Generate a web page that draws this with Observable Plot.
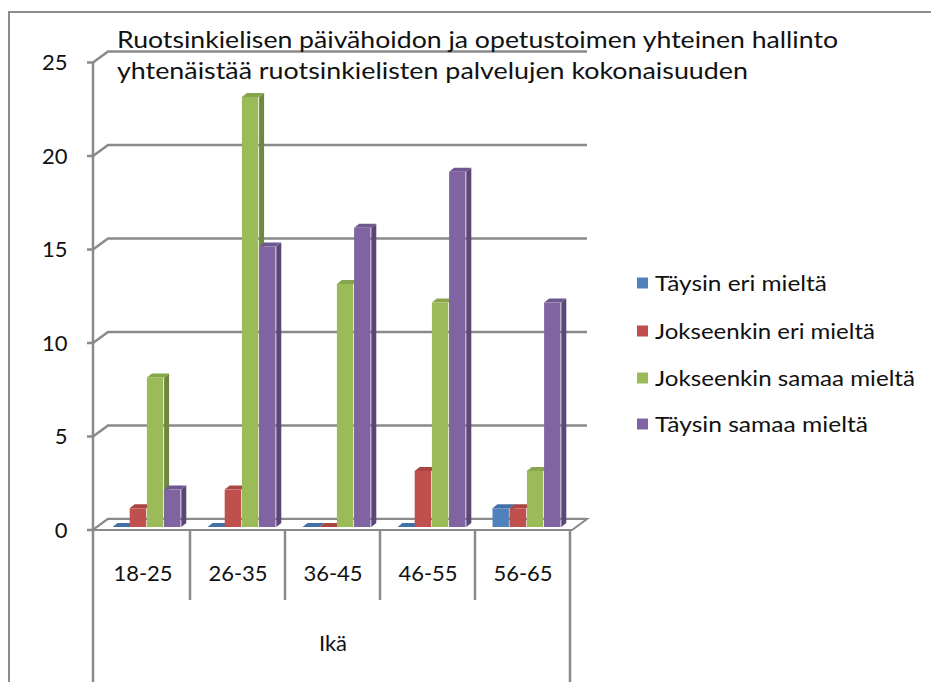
<!DOCTYPE html>
<html><head><meta charset="utf-8">
<script src="https://cdn.jsdelivr.net/npm/d3@7"></script>
<script src="https://cdn.jsdelivr.net/npm/@observablehq/plot@0.6"></script>
<style>
html,body{margin:0;padding:0;background:#fff;}
#wrap{position:relative;width:931px;height:682px;overflow:hidden;background:#fff;}
#border{position:absolute;left:8px;top:11px;width:1000px;height:1000px;border-left:2px solid #8c8c8c;border-top:2px solid #8c8c8c;}
#chart{position:absolute;left:0;top:0;}
</style></head><body>
<div id="wrap"><div id="border"></div><div id="chart"></div></div>
<script>
// ---- data ----
const titleLines = ["Ruotsinkielisen päivähoidon ja opetustoimen yhteinen hallinto", "yhtenäistää ruotsinkielisten palvelujen kokonaisuuden"];
const categories = ["18-25", "26-35", "36-45", "46-55", "56-65"];
const axisTitle = "Ikä";
const seriesNames = ["Täysin eri mieltä", "Jokseenkin eri mieltä", "Jokseenkin samaa mieltä", "Täysin samaa mieltä"];
const taysinEri = [0, 0, 0, 0, 1];
const jokseenkinEri = [1, 2, 0, 3, 1];
const jokseenkinSamaa = [8, 23, 13, 12, 3];
const taysinSamaa = [2, 15, 16, 19, 12];
const yTicks = [0, 5, 10, 15, 20, 25];
const frontColors = ["#4F81BD", "#C0504D", "#9BBB59", "#8064A2"];
const sideColors = ["#385E8C", "#8C3A38", "#6F883F", "#5B4776"];
const topColors = ["#4470A8", "#A94543", "#87A64C", "#6F588F"];

const seriesValues = [taysinEri, jokseenkinEri, jokseenkinSamaa, taysinSamaa];
const rows = [];
seriesValues.forEach((vals, s) => vals.forEach((v, c) => rows.push({cat: categories[c], s, value: v})));

// ---- layout (pixels) ----
const X0 = 93, X1 = 572, Y0 = 527, Y25 = 59.5;
const BW = (X1 - X0) / categories.length;
const BAR_START = 17.5, BAR_W = 17.2;
const DX = 5, DY = -4;        // bar depth
const FRONT = 3, BACK = -8, WALLX = 15; // axis/floor depth
const FONT = "Lato, sans-serif";

function bandInfo(x) {
  return typeof x.bandwidth === "function" ? x.bandwidth() : (x.bandwidth ?? BW);
}

// back wall gridlines, ticks, floor, table lines
function wallMark(index, scales) {
  const {x, y} = scales;
  const g = d3.create("svg:g").attr("fill", "none").attr("stroke", "#8a8a8a");
  for (const v of yTicks) {
    const yv = y(v);
    g.append("polyline")
      .attr("stroke-width", 2.5)
      .attr("points", [[X0 - 6, yv + FRONT], [X0, yv + FRONT], [X0 + WALLX, yv + BACK], [X1 + WALLX, yv + BACK]].map(p => p.join(",")).join(" "));
  }
  const y0 = y(0);
  g.append("polygon")
    .attr("fill", "#fff").attr("stroke-width", 2)
    .attr("points", [[X0, y0 + FRONT], [X1, y0 + FRONT], [X1 + WALLX, y0 + BACK], [X0 + WALLX, y0 + BACK]].map(p => p.join(",")).join(" "));
  g.append("line").attr("stroke-width", 2.5)
    .attr("x1", X0).attr("x2", X0).attr("y1", y(25) + FRONT).attr("y2", 682);
  const bw = bandInfo(x);
  categories.forEach((c, i) => {
    const xs = x(c);
    if (i > 0) g.append("line").attr("stroke-width", 2.5).attr("x1", xs).attr("x2", xs).attr("y1", y0 + FRONT).attr("y2", 600);
  });
  const xr = x(categories[categories.length - 1]) + bw;
  g.append("line").attr("stroke-width", 2.5).attr("x1", xr).attr("x2", xr).attr("y1", y0 + FRONT).attr("y2", 682);
  return g.node();
}

// 3D sides and tops of bars
function depthMark(index, scales) {
  const {x, y} = scales;
  const g = d3.create("svg:g");
  const poly = (pts, fill) => g.append("polygon").attr("fill", fill).attr("points", pts.map(p => p.join(",")).join(" "));
  const geom = rows.map(r => {
    const x1 = x(r.cat) + BAR_START + BAR_W * r.s, x2 = x1 + BAR_W;
    return {r, x1, x2, yt: y(r.value), yb: y(0)};
  });
  for (const {r, x2, yt, yb} of geom)
    poly([[x2, yb], [x2, yt], [x2 + DX, yt + DY], [x2 + DX, yb + DY]], sideColors[r.s]);
  for (const {r, x1, x2, yt} of geom)
    poly([[x1, yt], [x2, yt], [x2 + DX, yt + DY], [x1 + DX, yt + DY]], topColors[r.s]);
  return g.node();
}

const barMarks = seriesValues.map((vals, s) =>
  Plot.barY(rows.filter(r => r.s === s), {
    x: "cat", y: "value", fill: frontColors[s],
    insetLeft: BAR_START + BAR_W * s,
    insetRight: BW - BAR_START - BAR_W * (s + 1)
  })
);

const chart = Plot.plot({
  width: 931, height: 682,
  marginTop: 0, marginRight: 0, marginBottom: 0, marginLeft: 0,
  x: {type: "band", domain: categories, range: [X0, X1], padding: 0, axis: null},
  y: {domain: [0, 25], range: [Y0, Y25], axis: null},
  style: {fontFamily: FONT, background: "transparent", color: "#111"},
  marks: [
    wallMark,
    depthMark,
    ...barMarks,
    Plot.text(yTicks, {y: d => d, text: d => String(d), frameAnchor: "left", dx: 67, dy: FRONT, textAnchor: "end", fontSize: 22, fill: "#111"}),
    Plot.text(categories, {x: d => d, y: () => 0, text: d => d, dy: 46, fontSize: 22, fill: "#111"}),
    Plot.text([axisTitle], {x: () => categories[Math.floor(categories.length / 2)], y: () => 0, text: d => d, dy: 116, fontSize: 22, fill: "#111"})
  ]
});
document.getElementById("chart").appendChild(chart);

// title and legend as real SVG text
const svg = d3.select(chart);
const titleWidths = [721, 631];
titleLines.forEach((t, i) => {
  svg.append("text").attr("x", 117).attr("y", 48 + 31 * i)
    .attr("text-anchor", "start")
    .attr("font-family", FONT).attr("font-size", 23).attr("fill", "#111")
    .attr("textLength", titleWidths[i]).attr("lengthAdjust", "spacingAndGlyphs")
    .text(t);
});
const legendY = [283, 331, 378, 424];
const legendWidths = [172, 220, 260, 213];
seriesNames.forEach((n, i) => {
  svg.append("rect").attr("x", 637).attr("y", legendY[i] - 5.5).attr("width", 11).attr("height", 11).attr("fill", frontColors[i]);
  svg.append("text").attr("x", 655).attr("y", legendY[i] + 8)
    .attr("text-anchor", "start")
    .attr("font-family", FONT).attr("font-size", 22).attr("fill", "#111")
    .attr("textLength", legendWidths[i]).attr("lengthAdjust", "spacingAndGlyphs")
    .text(n);
});
</script>
</body></html>
